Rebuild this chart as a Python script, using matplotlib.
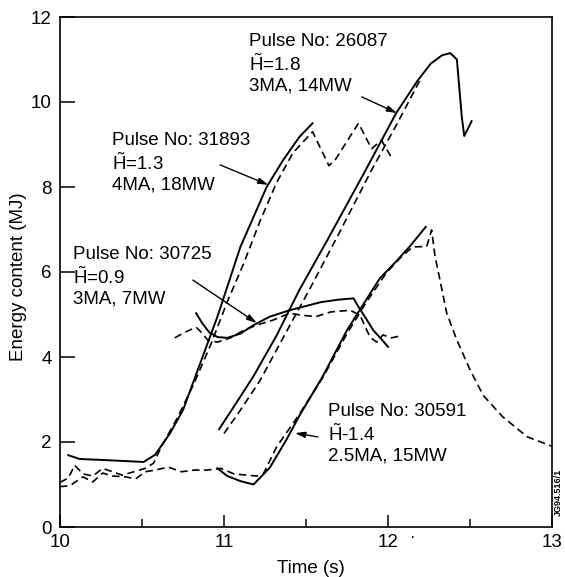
import matplotlib

matplotlib.use("Agg")

import matplotlib.pyplot as plt  # noqa: E402
from matplotlib.ticker import FixedLocator  # noqa: E402

plt.rcParams["font.family"] = ["Liberation Sans", "DejaVu Sans"]
plt.rcParams["mathtext.fontset"] = "custom"
plt.rcParams["mathtext.rm"] = "Liberation Sans"
plt.rcParams["mathtext.it"] = "Liberation Sans:italic"
plt.rcParams["mathtext.bf"] = "Liberation Sans:bold"

# Pulse 31893 (4MA, 18MW)
t_31893 = [10.05, 10.12, 10.3, 10.51, 10.58, 10.67, 10.75, 10.85, 10.96, 11.1, 11.26, 11.36, 11.46, 11.54]
e_31893 = [1.69, 1.6, 1.57, 1.53, 1.7, 2.2, 2.75, 3.8, 4.95, 6.59, 8.0, 8.63, 9.18, 9.5]
t_31893_d = [10.0, 10.05, 10.09, 10.14, 10.2, 10.26, 10.32, 10.38, 10.45, 10.52, 10.57, 10.62, 10.72,
             10.82, 10.92, 11.02, 11.12, 11.22, 11.32, 11.42, 11.54, 11.64, 11.68, 11.82, 11.9, 11.96, 12.02]
e_31893_d = [1.05, 1.15, 1.45, 1.25, 1.2, 1.38, 1.3, 1.22, 1.3, 1.38, 1.5, 1.9, 2.6,
             3.4, 4.3, 5.3, 6.2, 7.2, 8.1, 8.8, 9.3, 8.5, 8.65, 9.5, 8.9, 9.1, 8.7]

# Pulse 26087 (3MA, 14MW)
t_26087 = [10.97, 11.08, 11.18, 11.32, 11.46, 11.63, 11.85, 12.05, 12.18, 12.26, 12.33, 12.38, 12.42, 12.45, 12.465, 12.51]
e_26087 = [2.3, 2.95, 3.55, 4.5, 5.58, 6.75, 8.3, 9.74, 10.5, 10.9, 11.1, 11.15, 11.0, 9.65, 9.2, 9.55]
t_26087_d = [11.0, 11.1, 11.22, 11.36, 11.52, 11.7, 11.9, 12.05, 12.2]
e_26087_d = [2.2, 2.75, 3.45, 4.45, 5.58, 6.9, 8.4, 9.45, 10.55]

# Pulse 30725 (3MA, 7MW)
t_30725 = [10.83, 10.87, 10.91, 10.96, 11.02, 11.1, 11.18, 11.28, 11.4, 11.5, 11.59, 11.7, 11.79,
           11.82, 11.87, 11.91, 11.96, 12.0]
e_30725 = [5.03, 4.78, 4.58, 4.47, 4.45, 4.55, 4.75, 4.95, 5.1, 5.2, 5.29, 5.35, 5.38,
           5.18, 4.88, 4.63, 4.42, 4.24]
t_30725_d = [10.7, 10.76, 10.83, 10.87, 10.9, 10.96, 11.04, 11.12, 11.2, 11.3, 11.4, 11.48, 11.56,
             11.65, 11.77, 11.83, 11.89, 11.93, 11.97, 12.02, 12.08]
e_30725_d = [4.45, 4.58, 4.7, 4.55, 4.4, 4.35, 4.45, 4.63, 4.75, 4.87, 5.03, 4.98, 4.95,
             5.06, 5.1, 4.98, 4.47, 4.35, 4.52, 4.45, 4.5]

# Pulse 30591 (2.5MA, 15MW)
t_30591 = [10.96, 11.02, 11.1, 11.18, 11.28, 11.38, 11.46, 11.6, 11.75, 11.83, 11.95, 12.05, 12.13, 12.23]
e_30591 = [1.38, 1.2, 1.08, 1.0, 1.4, 2.05, 2.62, 3.53, 4.63, 5.12, 5.85, 6.25, 6.59, 7.06]
t_30591_d = [10.0, 10.06, 10.14, 10.2, 10.26, 10.32, 10.4, 10.46, 10.52, 10.58, 10.66, 10.74, 10.82,
             10.9, 10.98, 11.06, 11.14, 11.2, 11.24, 11.32, 11.45, 11.6, 11.75, 11.87, 11.99, 12.08,
             12.15, 12.236, 12.266, 12.287, 12.317, 12.358, 12.42, 12.5, 12.58, 12.7, 12.85, 13.0]
e_30591_d = [0.95, 0.97, 1.18, 1.06, 1.27, 1.2, 1.18, 1.13, 1.3, 1.34, 1.41, 1.3, 1.34,
             1.34, 1.38, 1.25, 1.22, 1.2, 1.25, 1.88, 2.6, 3.5, 4.55, 5.3, 5.98, 6.35,
             6.59, 6.6, 6.99, 6.36, 5.81, 5.03, 4.4, 3.7, 3.1, 2.59, 2.12, 1.9]

# (label text, text anchor, arrow tail, arrow head) in data units
labels = [
    ("Pulse No: 26087\n$\\tilde{\\mathrm{H}}$=1.8\n3MA, 14MW", (11.152, 11.62), (11.84, 10.12), (12.055, 9.74)),
    ("Pulse No: 31893\n$\\tilde{\\mathrm{H}}$=1.3\n4MA, 18MW", (10.317, 9.3), (10.976, 8.52), (11.27, 8.05)),
    ("Pulse No: 30725\n$\\tilde{\\mathrm{H}}$=0.9\n3MA, 7MW", (10.079, 6.62), (10.81, 5.81), (11.2, 4.8)),
    ("Pulse No: 30591\n$\\tilde{\\mathrm{H}}$-1.4\n2.5MA, 15MW", (11.634, 2.92), (11.573, 2.12), (11.433, 2.21)),
]

x_ticks = [10, 11, 12, 13]
x_minor = [10.5, 11.5, 12.5]
y_ticks = [0, 2, 4, 6, 8, 10, 12]

fig = plt.figure(figsize=(5.65, 5.77), dpi=100)
ax = fig.add_axes([60 / 565, 50 / 577, 492 / 565, 510 / 577])

solid = dict(color="black", linewidth=1.4, solid_joinstyle="round")
dashed = dict(color="black", linewidth=1.2, linestyle=(0, (4.5, 2.7)))

ax.plot(t_31893, e_31893, **solid)
ax.plot(t_31893_d, e_31893_d, **dashed)
ax.plot(t_26087, e_26087, **solid)
ax.plot(t_26087_d, e_26087_d, **dashed)
ax.plot(t_30725, e_30725, **solid)
ax.plot(t_30725_d, e_30725_d, **dashed)
ax.plot(t_30591, e_30591, **solid)
ax.plot(t_30591_d, e_30591_d, **dashed)

for text, anchor, tail, head in labels:
    ax.text(anchor[0], anchor[1], text, fontsize=13.5, ha="left", va="top", linespacing=1.2)
    ax.annotate("", xy=head, xytext=tail,
                arrowprops=dict(arrowstyle="-|>,head_length=0.6,head_width=0.18",
                                color="black", lw=1.0, shrinkA=0, shrinkB=0))

ax.set_xlim(10, 13)
ax.set_ylim(0, 12)
ax.xaxis.set_major_locator(FixedLocator(x_ticks))
ax.xaxis.set_minor_locator(FixedLocator(x_minor))
ax.yaxis.set_major_locator(FixedLocator(y_ticks))
ax.tick_params(axis="both", which="major", direction="in", labelsize=13.5, width=1.1)
ax.tick_params(axis="x", which="major", length=9, pad=5)
ax.tick_params(axis="x", which="minor", direction="in", length=6, width=1.1)
ax.tick_params(axis="y", which="major", length=11, pad=6)
for spine in ax.spines.values():
    spine.set_linewidth(1.2)

ax.set_xlabel("Time (s)", fontsize=13.5)
ax.set_ylabel("Energy content (MJ)", fontsize=13.5)
ax.xaxis.set_label_coords(0.51, -0.065)
ax.yaxis.set_label_coords(-0.068, 0.49)

ax.text(12.15, -0.24, "\u00b7", fontsize=12, ha="center", va="center", clip_on=False)
fig.text(558 / 565, 1 - 492 / 577, "JG94.516/1", fontsize=6.5, rotation=90,
         ha="center", va="center", fontweight="bold")

fig.savefig("out.png", dpi=100)
